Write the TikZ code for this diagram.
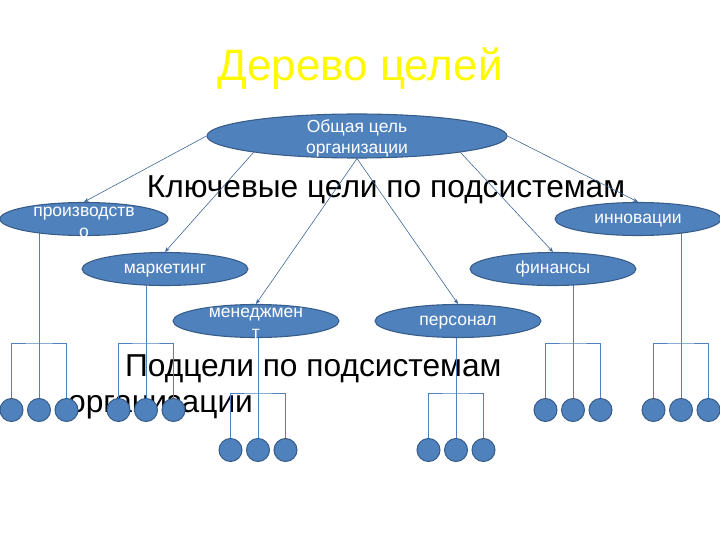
\documentclass[tikz,border=0pt]{standalone}
\usepackage{fontspec}
\setmainfont{Liberation Sans}
\usetikzlibrary{shapes.geometric, positioning, arrows.meta, calc}
\pgfdeclarelayer{background}
\pgfsetlayers{background,main}
\definecolor{goalblue}{RGB}{79,129,189}
\definecolor{goaledge}{RGB}{56,93,138}
\definecolor{titleyellow}{RGB}{255,250,0}
\tikzset{
  heading/.style={text=titleyellow, inner sep=0pt, font=\fontsize{44}{48}\selectfont},
  caption/.style={text=black, inner sep=0pt, font=\fontsize{31.7}{36}\selectfont},
  goal/.style={ellipse, draw=goaledge, line width=1.1pt, fill=goalblue, inner sep=0pt, minimum width=300pt, minimum height=44pt},
  subgoal/.style={ellipse, draw=goaledge, line width=1.1pt, fill=goalblue, inner sep=0pt, minimum width=166pt, minimum height=33pt, text=white, text height=9pt, text depth=0pt},
  goaltext/.style={text=white, align=center, inner sep=0pt, font=\fontsize{17.5}{21}\selectfont},
  leaf/.style={circle, draw=goaledge, line width=1pt, fill=goalblue, minimum size=23pt, inner sep=0pt},
  link/.style={draw=goalblue!80!black, line width=0.6pt, -{Stealth[length=5pt,width=4pt]}},
  branch/.style={draw=goalblue, line width=0.9pt}
}
\begin{document}
\begin{tikzpicture}[x=1pt, y=-1pt, every node/.style={font=\fontsize{17.5}{21}\selectfont}]
    \useasboundingbox (0,0) rectangle (720,540);
    \node (title) [heading, anchor=base] at (360,81) {Дерево целей};

    % goals
    \node (org) [goal, label={[goaltext, yshift=-2pt]center:{Общая цель\\организации}}] at (357,136) {};
    \node (prod) [subgoal, minimum width=168pt, label={[goaltext, yshift=-3pt]center:{производств\\о}}] at (84,219) {};
    \node (mark) [subgoal] at (165,269) {маркетинг};
    \node (men) [subgoal, label={[goaltext, yshift=-2pt]center:{менеджмен\\т}}] at (256,321) {};
    \node (pers) [subgoal] at (458,321) {персонал};
    \node (fin) [subgoal] at (553,269) {финансы};
    \node (inn) [subgoal] at (638,219) {инновации};

    % subgoals
    \foreach \b/\cx/\cy/\bary in {prod/39/410/343, mark/146/410/343, men/258/450/393, pers/456/450/393, fin/573/410/343, inn/681/410/343} {
        \node (\b1) [leaf] at (\cx-27.5,\cy) {};
        \node (\b2) [leaf] at (\cx,\cy) {};
        \node (\b3) [leaf] at (\cx+27.5,\cy) {};
        \coordinate (\b bar) at (\cx,\bary);
    }

    \begin{pgfonlayer}{background}
        \node (keygoals) [caption, anchor=base] at (386,197) {Ключевые цели по подсистемам};
        \node (subgoals) [caption, anchor=north west, align=left] at (68,354) {\hspace*{57pt}Подцели по подсистемам\\организации};
        \foreach \b in {prod,mark,men,pers,fin,inn} {
            \draw [branch] (\b2.center) -- (\b2 |- \b.center);
            \draw [branch] (\b1.center) |- (\b bar) -| (\b3.center);
        }
    \end{pgfonlayer}

    \draw [link] (org.west) -- (prod.north);
    \draw [link] (org.189) -- (mark.north);
    \draw [link] (org.south) -- (men.north);
    \draw [link] (org.south) -- (pers.north);
    \draw [link] (org.351) -- (fin.north);
    \draw [link] (org.east) -- (inn.north);
\end{tikzpicture}
\end{document}
